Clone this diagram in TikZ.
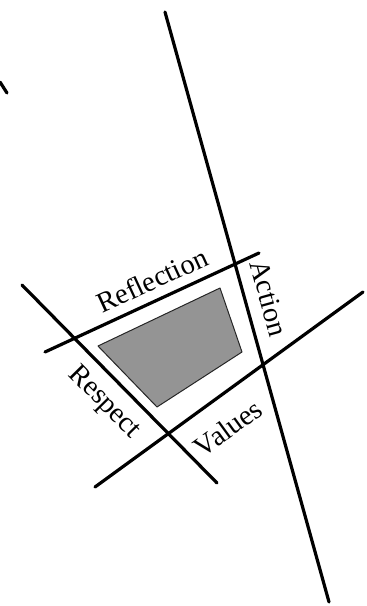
\documentclass[tikz,border=0pt]{standalone}
\usepackage{fontspec}
\setmainfont{Liberation Serif}
\begin{document}
\begin{tikzpicture}[x=1pt,y=-1pt,
  axisline/.style={line width=3.2pt, line cap=round},
  lbl/.style={inner sep=0pt, font=\fontsize{28.5}{30}\selectfont},
  zone/.style={fill=black!42, draw=black!85, line width=1pt, line join=round}]
\useasboundingbox (0,0) rectangle (367,606);
% named points
\coordinate (actT) at (165,12);
\coordinate (actB) at (329,602);
\coordinate (refL) at (45,352);
\coordinate (refR) at (259,253);
\coordinate (resT) at (22,285);
\coordinate (resB) at (217,483);
\coordinate (valL) at (95,487);
\coordinate (valR) at (363,292);
\coordinate (stubA) at (0,82);
\coordinate (stubB) at (7,93);
% shaded zone
\coordinate (z1) at (98,346);
\coordinate (z2) at (220,288);
\coordinate (z3) at (242,352);
\coordinate (z4) at (157,407);
\path[zone] (z1) -- (z2) -- (z3) -- (z4) -- cycle;
% lines
\draw[axisline] (actT) -- (actB);
\draw[axisline] (refL) -- (refR);
\draw[axisline] (resT) -- (resB);
\draw[axisline] (valL) -- (valR);
\draw[axisline] (stubA) -- (stubB);
% labels
\node[lbl, rotate=24.8] (tRef) at (152,280) {Reflection};
\node[lbl, rotate=-74.5] (tAct) at (269,298) {Action};
\node[lbl, rotate=-45.4] (tRes) at (104,403) {Respect};
\node[lbl, rotate=36] (tVal) at (228,428) {Values};
\end{tikzpicture}
\end{document}
